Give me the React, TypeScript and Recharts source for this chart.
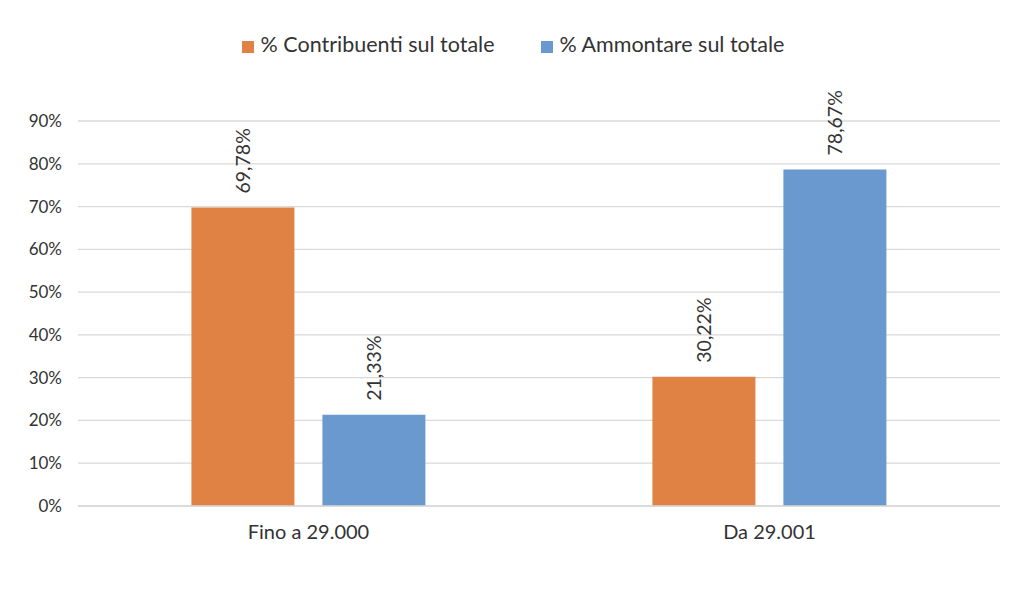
import { Bar, BarChart, CartesianGrid, LabelList, Legend, XAxis, YAxis } from "recharts";

const categories = ["Fino a 29.000", "Da 29.001"];
const contribuenti = [69.78, 30.22];
const ammontare = [21.33, 78.67];
const yTicks = [0, 10, 20, 30, 40, 50, 60, 70, 80, 90];
const seriesOrder = ["contribuenti", "ammontare"];

const data = categories.map((name, i) => ({
  name,
  contribuenti: contribuenti[i],
  ammontare: ammontare[i],
}));

const orange = "#DF8244";
const blue = "#6A99D0";
const textColor = "#333333";
const font = "Lato, 'Open Sans', sans-serif";

function formatPct(value: number) {
  return `${value.toFixed(2).replace(".", ",")}%`;
}

function RotatedLabel(props: any) {
  const { x, y, width, value } = props;
  const cx = Number(x) + Number(width) / 2;
  const cy = Number(y) - 14;
  return (
    <text
      x={cx}
      y={cy}
      transform={`rotate(-90, ${cx}, ${cy})`}
      textAnchor="start"
      dominantBaseline="central"
      fill={textColor}
      fontSize={19.5}
      fontFamily={font}
    >
      {formatPct(Number(value))}
    </text>
  );
}

export default function App() {
  return (
    <div style={{ position: "absolute", left: 0, top: 0, width: 1024, height: 603, background: "#fff" }}>
      <BarChart
        width={1024}
        height={603}
        data={data}
        margin={{ top: 95, right: 24, left: 0, bottom: 60 }}
        barCategoryGap="24.6%"
        barGap={28}
      >
        <CartesianGrid vertical={false} stroke="#D9D9D9" strokeWidth={1.3} />
        <XAxis
          dataKey="name"
          axisLine={{ stroke: "#D9D9D9", strokeWidth: 1.3 }}
          tickLine={false}
          tick={{ fill: textColor, fontSize: 20, fontFamily: font }}
          tickMargin={13}
          height={37}
        />
        <YAxis
          domain={[0, 90]}
          ticks={yTicks}
          interval={0}
          axisLine={false}
          tickLine={false}
          tickFormatter={(v) => `${v}%`}
          tick={{ fill: textColor, fontSize: 17, fontFamily: font }}
          tickMargin={10}
          width={78}
        />
        <Legend
          verticalAlign="top"
          align="center"
          iconType="square"
          iconSize={12}
          itemSorter={(item: any) => seriesOrder.indexOf(String(item.dataKey))}
          wrapperStyle={{ top: 31, left: 6, width: 1024, fontFamily: font, fontSize: 21.5 }}
          formatter={(value, entry: any) => (
            <span
              style={{
                color: textColor,
                marginLeft: 3,
                marginRight: entry.dataKey === "contribuenti" ? 36 : 0,
              }}
            >
              {value}
            </span>
          )}
        />
        <Bar dataKey="contribuenti" name="% Contribuenti sul totale" fill={orange} isAnimationActive={false}>
          <LabelList dataKey="contribuenti" content={RotatedLabel} />
        </Bar>
        <Bar dataKey="ammontare" name="% Ammontare sul totale" fill={blue} isAnimationActive={false}>
          <LabelList dataKey="ammontare" content={RotatedLabel} />
        </Bar>
      </BarChart>
    </div>
  );
}
